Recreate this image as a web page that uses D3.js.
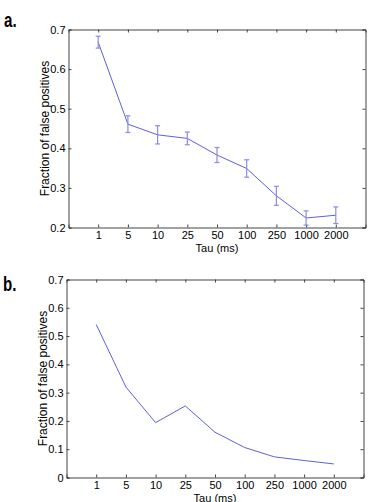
<!DOCTYPE html>
<html>
<head>
<meta charset="utf-8">
<script src="https://cdn.jsdelivr.net/npm/d3@7"></script>
<style>
  body { margin: 0; background: #fff; }
  svg { display: block; }
  .tick text { font-family: "Liberation Sans", Arial, sans-serif; font-size: 11px; fill: #000; }
</style>
</head>
<body>
<div id="viz"></div>
<script>
const tauLabels = ['1', '5', '10', '25', '50', '100', '250', '1000', '2000'];
const fpA = [0.668, 0.461, 0.434, 0.425, 0.383, 0.349, 0.280, 0.224, 0.231];
const errA = [0.015, 0.021, 0.023, 0.016, 0.019, 0.022, 0.024, 0.018, 0.021];
const fpB = [0.541, 0.320, 0.194, 0.253, 0.160, 0.106, 0.073, 0.060, 0.048];
const yTicksA = [0.2, 0.3, 0.4, 0.5, 0.6, 0.7];
const yTicksB = [0, 0.1, 0.2, 0.3, 0.4, 0.5, 0.6, 0.7];

const width = 373;
const height = 502;
const lineColor = '#5f5fdc';
const errColor = '#8c8ce2';
const axisColor = '#444';

const svg = d3.select('#viz')
    .append('svg')
    .attr('width', width)
    .attr('height', height);

function drawPanel(opts) {
    const box = opts.box;
    const innerWidth = box.right - box.left;
    const innerHeight = box.bottom - box.top;

    const g = svg.append('g')
        .attr('transform', `translate(${box.left},${box.top})`);

    const x = d3.scaleLinear().domain([0, 10]).range([0, innerWidth]);
    const y = d3.scaleLinear().domain(opts.yDomain).range([innerHeight, 0]);

    const xTicks = tauLabels.map((d, i) => i + 1);

    g.append('g')
        .attr('transform', `translate(0,${innerHeight})`)
        .call(d3.axisBottom(x).tickValues(xTicks).tickSize(-3).tickPadding(4)
            .tickFormat((d, i) => tauLabels[i]));
    g.append('g')
        .call(d3.axisTop(x).tickValues(xTicks).tickSize(-3).tickFormat(''));
    g.append('g')
        .call(d3.axisLeft(y).tickValues(opts.yTicks).tickSize(-3).tickPadding(3)
            .tickFormat(d => d3.format('~g')(d)));
    g.append('g')
        .attr('transform', `translate(${innerWidth},0)`)
        .call(d3.axisRight(y).tickValues(opts.yTicks).tickSize(-3).tickFormat(''));

    g.selectAll('.domain').attr('stroke', axisColor);
    g.selectAll('.tick line').attr('stroke', axisColor);

    const line = d3.line()
        .x((d, i) => x(i + 1))
        .y(d => y(d));

    g.append('path')
        .datum(opts.values)
        .attr('fill', 'none')
        .attr('stroke', lineColor)
        .attr('stroke-width', 1)
        .attr('d', line);

    if (opts.errors) {
        const bars = g.selectAll('.err')
            .data(opts.values.map((v, i) => ({ i: i, v: v, e: opts.errors[i] })))
            .enter()
            .append('g')
            .attr('class', 'err')
            .attr('stroke', errColor)
            .attr('stroke-width', 1.2);
        bars.append('line')
            .attr('x1', d => x(d.i + 1)).attr('x2', d => x(d.i + 1))
            .attr('y1', d => y(d.v - d.e)).attr('y2', d => y(d.v + d.e));
        bars.append('line')
            .attr('x1', d => x(d.i + 1) - 2.5).attr('x2', d => x(d.i + 1) + 2.5)
            .attr('y1', d => y(d.v + d.e)).attr('y2', d => y(d.v + d.e));
        bars.append('line')
            .attr('x1', d => x(d.i + 1) - 2.5).attr('x2', d => x(d.i + 1) + 2.5)
            .attr('y1', d => y(d.v - d.e)).attr('y2', d => y(d.v - d.e));
    }

    g.append('text')
        .attr('transform', `translate(${opts.yLabelX - box.left},${innerHeight / 2}) rotate(-90)`)
        .attr('text-anchor', 'middle')
        .style('font-family', '"Liberation Sans", Arial, sans-serif')
        .style('font-size', '12px')
        .text('Fraction of false positives');

    g.append('text')
        .attr('x', innerWidth / 2)
        .attr('y', innerHeight + 24)
        .attr('text-anchor', 'middle')
        .style('font-family', '"Liberation Sans", Arial, sans-serif')
        .style('font-size', '11px')
        .text('Tau (ms)');

    // condensed bold panel tag
    svg.append('text')
        .attr('transform', `translate(${opts.tag.x},${opts.tag.y}) scale(0.72,1)`)
        .style('font-family', '"Liberation Sans", Arial, sans-serif')
        .style('font-weight', 'bold')
        .style('font-size', '21px')
        .text(opts.tag.text);
}

drawPanel({
    box: { left: 68.5, right: 365.5, top: 29.5, bottom: 227.5 },
    yDomain: [0.2, 0.7],
    yTicks: yTicksA,
    values: fpA,
    errors: errA,
    yLabelX: 49,
    tag: { text: 'a.', x: 4, y: 26.5 }
});

drawPanel({
    box: { left: 66.5, right: 363.5, top: 279.5, bottom: 477.5 },
    yDomain: [0, 0.7],
    yTicks: yTicksB,
    values: fpB,
    errors: null,
    yLabelX: 47,
    tag: { text: 'b.', x: 3, y: 290.5 }
});
</script>
</body>
</html>
